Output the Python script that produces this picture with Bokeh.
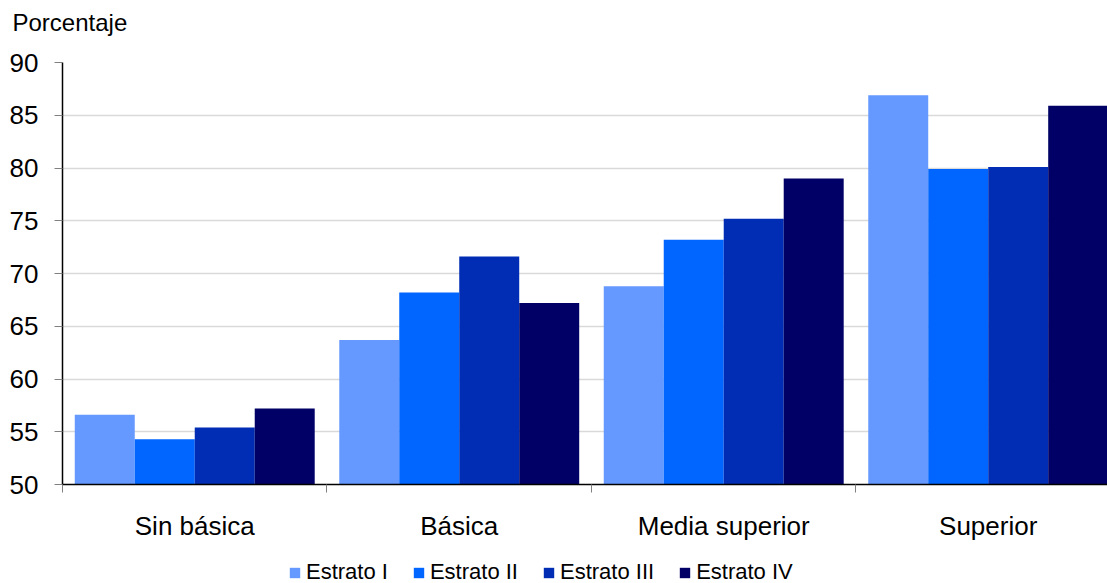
from bokeh.plotting import figure
from bokeh.layouts import column
from bokeh.models import ColumnDataSource, FixedTicker, Legend, LegendItem, Range1d
from bokeh.embed import file_html
from bokeh.resources import INLINE

categories = ["Sin básica", "Básica", "Media superior", "Superior"]
series = ["Estrato I", "Estrato II", "Estrato III", "Estrato IV"]
estrato_1 = [56.6, 63.7, 68.8, 86.9]
estrato_2 = [54.3, 68.2, 73.2, 79.9]
estrato_3 = [55.4, 71.6, 75.2, 80.1]
estrato_4 = [57.2, 67.2, 79.0, 85.9]
colors = ["#6699FF", "#0066FF", "#002DB3", "#000066"]
y_ticks = [50, 55, 60, 65, 70, 75, 80, 85, 90]
y_title = "Porcentaje"

FONT = "Liberation Sans"
AX_FS = "26px"
W = 1107
H_TOP = 44
H_LEG = 38
H_MAIN = 583 - H_TOP - H_LEG
FRAME_TOP, FRAME_BOTTOM = 62, 484


def bare(height, **kw):
    f = figure(width=W, height=height, output_backend="svg", toolbar_location=None,
               x_axis_type=None, y_axis_type=None, x_range=Range1d(0, 1),
               y_range=Range1d(0, 1), **kw)
    f.outline_line_color = None
    f.xgrid.grid_line_color = None
    f.ygrid.grid_line_color = None
    f.background_fill_color = "white"
    f.border_fill_color = "white"
    return f


# top strip with the y-axis title
p0 = bare(H_TOP, min_border_top=39, min_border_bottom=0, min_border_left=0,
          min_border_right=0, title=y_title)
p0.title.text_font = FONT
p0.title.text_font_size = "24px"
p0.title.text_font_style = "normal"
p0.title.text_color = "black"
p0.title.align = "left"
p0.title.offset = -50
p0.title.standoff = 8

# main chart
p = figure(width=W, height=H_MAIN, output_backend="svg", toolbar_location=None,
           x_range=Range1d(0, 3.951), y_range=Range1d(50, 90),
           min_border_left=62, min_border_right=0, min_border_top=FRAME_TOP - H_TOP,
           min_border_bottom=H_MAIN - (FRAME_BOTTOM - H_TOP))
p.outline_line_color = None
p.background_fill_color = "white"
p.border_fill_color = "white"

bar_w = 0.2268
offsets = [-1.5, -0.5, 0.5, 1.5]
vals = [estrato_1, estrato_2, estrato_3, estrato_4]
for i, (name, v, c) in enumerate(zip(series, vals, colors)):
    xs = [k + 0.5 + offsets[i] * bar_w for k in range(len(categories))]
    src = ColumnDataSource(dict(x=xs, top=v))
    p.vbar(x="x", top="top", bottom=50, width=bar_w, source=src,
           fill_color=c, line_color=None)

p.xaxis.ticker = FixedTicker(ticks=[0.5, 1.5, 2.5, 3.5], minor_ticks=[0, 1, 2, 3, 4])
p.xaxis.major_label_overrides = {k + 0.5: categories[k] for k in range(len(categories))}
p.xaxis.major_tick_out = 0
p.xaxis.major_tick_in = 0
p.xaxis.minor_tick_out = 8
p.xaxis.minor_tick_in = 0
p.xaxis.minor_tick_line_color = "#808080"
p.xaxis.axis_line_color = "black"
p.xaxis.axis_line_width = 1.5
p.xaxis.major_label_text_font = FONT
p.xaxis.major_label_text_font_size = AX_FS
p.xaxis.major_label_text_color = "black"
p.xaxis.major_label_standoff = 18

p.yaxis.ticker = FixedTicker(ticks=y_ticks)
p.yaxis.minor_tick_line_color = None
p.yaxis.major_tick_out = 8
p.yaxis.major_tick_in = 0
p.yaxis.major_tick_line_color = "#808080"
p.yaxis.axis_line_color = "black"
p.yaxis.axis_line_width = 1.5
p.yaxis.major_label_text_font = FONT
p.yaxis.major_label_text_font_size = AX_FS
p.yaxis.major_label_text_color = "black"
p.yaxis.major_label_standoff = 16

p.xgrid.grid_line_color = None
p.ygrid.ticker = FixedTicker(ticks=y_ticks[1:])
p.ygrid.grid_line_color = "#d9d9d9"
p.ygrid.grid_line_width = 1.5

# legend strip below
p2 = bare(H_LEG, min_border=0)
leg_renderers = []
for c in colors:
    r = p2.vbar(x=[-1.0], top=[-1.0], bottom=-2.0, width=0.1, fill_color=c, line_color=None)
    leg_renderers.append(r)
legend = Legend(items=[LegendItem(label=s, renderers=[r]) for s, r in zip(series, leg_renderers)],
                orientation="horizontal", location=(226, -2),
                glyph_width=13, glyph_height=13, label_standoff=5, spacing=24,
                padding=0, margin=0, border_line_color=None, background_fill_alpha=0,
                label_text_font=FONT, label_text_font_size="22px", label_text_color="black")
p2.add_layout(legend, "center")

open("out.html", "w").write(file_html(column(p0, p, p2, spacing=0), INLINE))
